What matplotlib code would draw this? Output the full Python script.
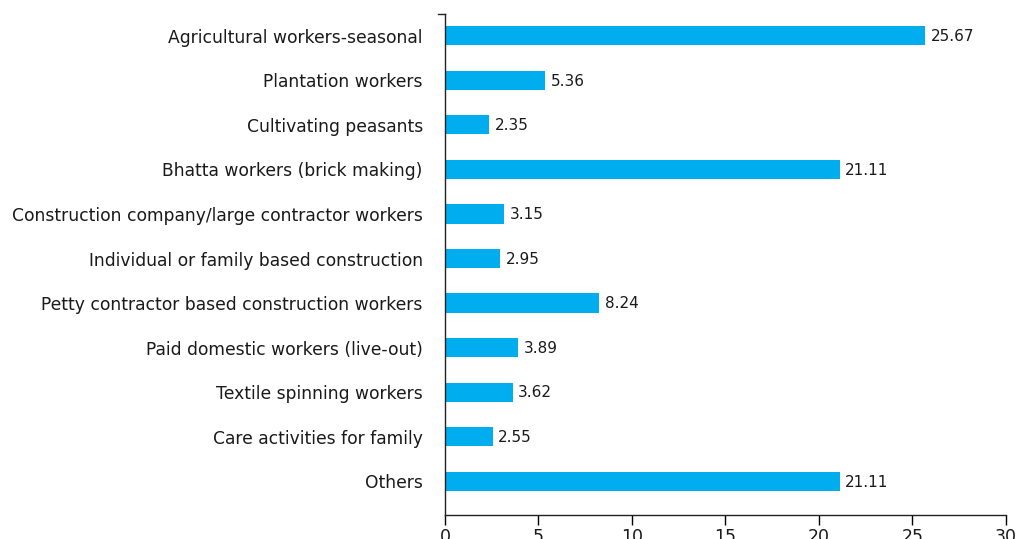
import matplotlib
matplotlib.use("Agg")
import matplotlib.pyplot as plt

categories = [
    "Agricultural workers-seasonal",
    "Plantation workers",
    "Cultivating peasants",
    "Bhatta workers (brick making)",
    "Construction company/large contractor workers",
    "Individual or family based construction",
    "Petty contractor based construction workers",
    "Paid domestic workers (live-out)",
    "Textile spinning workers",
    "Care activities for family",
    "Others",
]
values = [25.67, 5.36, 2.35, 21.11, 3.15, 2.95, 8.24, 3.89, 3.62, 2.55, 21.11]
xticks = [0, 5, 10, 15, 20, 25, 30]

plt.rcParams["font.family"] = ["DejaVu Sans"]

fig = plt.figure(figsize=(10.16, 5.39), dpi=100)
ax = fig.add_axes([0.438, 0.0445, 0.552, 0.9295])

pos = list(range(len(categories)))
ax.barh(pos, values, height=0.43, color="#00AEEF", zorder=2)
for p, v in zip(pos, values):
    ax.text(v + 0.3, p + 0.02, f"{v:.2f}", va="center", ha="left", fontsize=11, color="#1a1a1a")

ax.set_ylim(10.76, -0.49)
ax.set_xlim(0, 30)
ax.set_yticks(pos)
ax.set_yticklabels(categories, fontsize=12.35, color="#1a1a1a")
ax.tick_params(axis="y", length=0, pad=16)
ax.set_xticks(xticks)
ax.set_xticklabels([str(t) for t in xticks], fontsize=12.5, color="#1a1a1a")
ax.tick_params(axis="x", length=7, width=1, pad=2, direction="out")

for s in ("top", "right"):
    ax.spines[s].set_visible(False)
for s in ("left", "bottom"):
    ax.spines[s].set_linewidth(1)
    ax.spines[s].set_color("#222222")

# small end tick at the top of the y axis
ax.plot([-0.35, 0], [-0.49, -0.49], color="#222222", lw=1, clip_on=False)

fig.savefig("out.png", dpi=100)
